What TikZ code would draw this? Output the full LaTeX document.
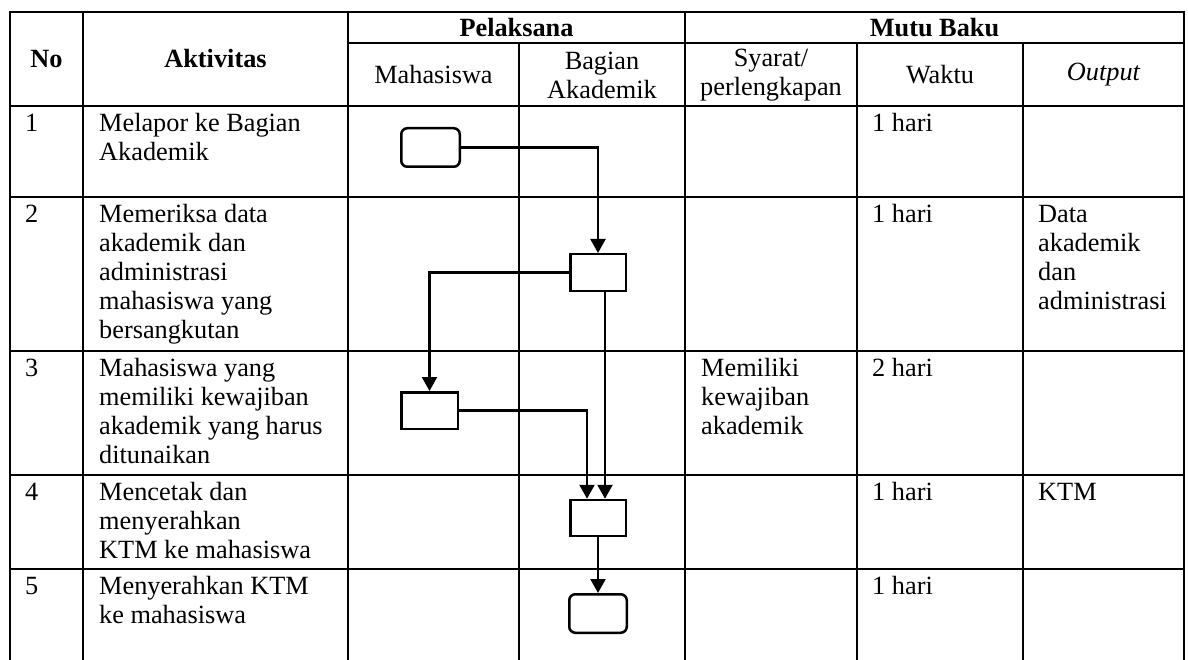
\documentclass[tikz,border=0pt]{standalone}
\usepackage{fontspec}
\setmainfont{Liberation Serif}
\usetikzlibrary{arrows.meta}
\newcommand\tblfont{\fontsize{26.3}{29}\selectfont}
\begin{document}
\begin{tikzpicture}[x=1pt,y=-1pt,
  grid/.style={line width=2.2pt, line cap=rect},
  hd/.style={font=\tblfont\bfseries, align=center, inner sep=0},
  sub/.style={font=\tblfont, align=center, inner sep=0},
  cell/.style={font=\tblfont, align=left, anchor=north west, inner sep=0},
  proc/.style={draw, line width=2.5pt, rectangle, inner sep=0},
  term/.style={proc, rounded corners=6pt},
  flow/.style={line width=2.2pt, -{Triangle[length=14pt,width=15pt]}}
]
\fill[white] (0,0) rectangle (1188,660);
\useasboundingbox (0,0) rectangle (1188,660);

% grid
\draw[grid] (10,12) -- (1184,12);
\draw[grid] (348,43) -- (1184,43);
\foreach \yy in {106,197,351,475,569} \draw[grid] (10,\yy) -- (1184,\yy);
\foreach \xx in {10,83,348,685,1184} \draw[grid] (\xx,12) -- (\xx,662);
\foreach \xx in {519,857,1023} \draw[grid] (\xx,43) -- (\xx,662);

% header
\node[hd] (hno) at (46.5,59) {No};
\node[hd] (hakt) at (215.5,59) {Aktivitas};
\node[hd] (hpel) at (516.5,28) {Pelaksana};
\node[hd] (hmut) at (934.5,28) {Mutu Baku};
\node[sub] (hmhs) at (433.5,75) {Mahasiswa};
\node[sub] (hbag) at (602,75) {Bagian\\Akademik};
\node[sub] (hsya) at (771,75) {Syarat/\\perlengkapan};
\node[sub] (hwak) at (940,75) {Waktu};
\node[sub] (hout) at (1103.5,75) {\itshape Output};

% row 1
\node[cell] (n1) at (25,110.7) {\strut 1};
\node[cell] (a1) at (99,110.7) {\strut Melapor ke Bagian\\Akademik};
\node[cell] (w1) at (872,110.7) {\strut 1 hari};
% row 2
\node[cell] (n2) at (25,201.7) {\strut 2};
\node[cell] (a2) at (99,201.7) {\strut Memeriksa data\\akademik dan\\administrasi\\mahasiswa yang\\bersangkutan};
\node[cell] (w2) at (872,201.7) {\strut 1 hari};
\node[cell] (o2) at (1038,201.7) {\strut Data\\akademik\\dan\\administrasi};
% row 3
\node[cell] (n3) at (25,355.7) {\strut 3};
\node[cell] (a3) at (99,355.7) {\strut Mahasiswa yang\\memiliki kewajiban\\akademik yang harus\\ditunaikan};
\node[cell] (s3) at (701,355.7) {\strut Memiliki\\kewajiban\\akademik};
\node[cell] (w3) at (872,355.7) {\strut 2 hari};
% row 4
\node[cell] (n4) at (25,479.7) {\strut 4};
\node[cell] (a4) at (99,479.7) {\strut Mencetak dan\\menyerahkan\\KTM ke mahasiswa};
\node[cell] (w4) at (872,479.7) {\strut 1 hari};
\node[cell] (o4) at (1038,479.7) {\strut KTM};
% row 5
\node[cell] (n5) at (25,573.7) {\strut 5};
\node[cell] (a5) at (99,573.7) {\strut Menyerahkan KTM\\ke mahasiswa};
\node[cell] (w5) at (872,573.7) {\strut 1 hari};

% flow shapes
\node[term, minimum width=58.5pt, minimum height=38.5pt] (s) at (430.5,147.5) {};
\node[proc, minimum width=55.5pt, minimum height=36.5pt] (b2) at (598,272.5) {};
\node[proc, minimum width=56.5pt, minimum height=36.5pt] (b3) at (429.5,410.5) {};
\node[proc, minimum width=55.5pt, minimum height=36pt] (b4) at (598,518) {};
\node[term, minimum width=57.5pt, minimum height=38.5pt] (e) at (598,613.5) {};

% connectors
\draw[flow] (s.east) -| (b2.north);
\draw[flow] (b2.west) -| (b3.north);
\draw[flow] (b3.east) -| ([xshift=-11pt]b4.north);
\draw[flow] ([xshift=7pt]b2.south) -- ([xshift=7pt]b4.north);
\draw[flow] (b4.south) -- (e.north);
\end{tikzpicture}
\end{document}
